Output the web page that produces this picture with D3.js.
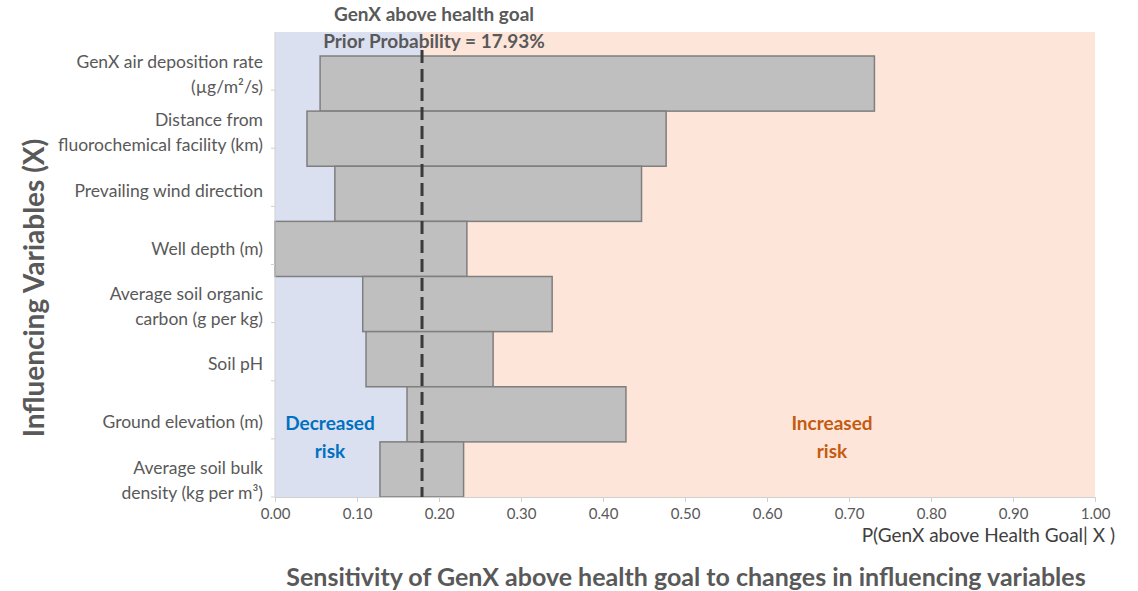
<!DOCTYPE html>
<html>
<head>
<meta charset="utf-8">
<script src="https://cdn.jsdelivr.net/npm/d3@7"></script>
<style>
  body { margin: 0; background: #fff; }
  text { font-family: Lato, "Open Sans", sans-serif; }
</style>
</head>
<body>
<div id="chart"></div>
<script>
// categories (top to bottom), each label split into lines
const variables = [
  ["GenX air deposition rate", "(µg/m²/s)"],
  ["Distance from", "fluorochemical facility (km)"],
  ["Prevailing wind direction"],
  ["Well depth (m)"],
  ["Average soil organic", "carbon (g per kg)"],
  ["Soil pH"],
  ["Ground elevation (m)"],
  ["Average soil bulk", "density (kg per m³)"]
];
// P(GenX above health goal | X) at the low and high end of each variable
const lowValues  = [0.055, 0.039, 0.073, 0.000, 0.107, 0.111, 0.161, 0.128];
const highValues = [0.731, 0.477, 0.447, 0.234, 0.338, 0.266, 0.428, 0.230];
const priorProbability = 0.1793;
const xTicks = [0, 0.1, 0.2, 0.3, 0.4, 0.5, 0.6, 0.7, 0.8, 0.9, 1.0];

const w = 1138;
const h = 591;
const plot = { left: 275, right: 1095, top: 32, barTop: 56, bottom: 497 };

const rows = variables.map((lines, i) => ({
      key: lines.join(" "),
      lines: lines,
      low: lowValues[i],
      high: highValues[i]
}));

const x = d3.scaleLinear().domain([0, 1]).range([plot.left, plot.right]);
// bars
const y = d3.scaleBand()
      .domain(rows.map((d) => d.key))
      .range([plot.barTop, plot.bottom])
      .padding(0);
// category axis (labels and tick marks sit a little differently than the bars)
const yLabel = d3.scaleBand()
      .domain(rows.map((d) => d.key))
      .range([46, 509]);
const yTick = d3.scaleBand()
      .domain(rows.map((d) => d.key))
      .range([plot.top, plot.bottom]);

const svg = d3.select("#chart")
      .append("svg")
      .attr("width", w)
      .attr("height", h);

// background regions
svg.append("rect")
      .attr("x", x(0))
      .attr("y", plot.top)
      .attr("width", x(priorProbability) - x(0))
      .attr("height", plot.bottom - plot.top)
      .style("fill", "#dbe0f1");
svg.append("rect")
      .attr("x", x(priorProbability))
      .attr("y", plot.top)
      .attr("width", x(1) - x(priorProbability))
      .attr("height", plot.bottom - plot.top)
      .style("fill", "#fde6d9");

// bars
svg.selectAll("rect.bar")
      .data(rows)
      .enter()
      .append("rect")
      .attr("class", "bar")
      .attr("x", (d) => x(d.low))
      .attr("y", (d) => y(d.key))
      .attr("width", (d) => x(d.high) - x(d.low))
      .attr("height", y.bandwidth())
      .style("fill", "#bfbfbf")
      .style("stroke", "#7f7f7f")
      .style("stroke-width", 1.5);

// prior probability line
svg.append("line")
      .attr("x1", x(priorProbability))
      .attr("x2", x(priorProbability))
      .attr("y1", 50)
      .attr("y2", plot.bottom)
      .style("stroke", "#3a3a3a")
      .style("stroke-width", 3)
      .style("stroke-dasharray", "13,6");

// x axis
const xAxis = d3.axisBottom(x)
      .tickValues(xTicks)
      .tickFormat(d3.format(".2f"))
      .tickSize(5)
      .tickPadding(6);
const gx = svg.append("g")
      .attr("transform", `translate(0,${plot.bottom})`)
      .call(xAxis);
gx.select(".domain").style("stroke", "#d0d0d0");
gx.selectAll(".tick line").style("stroke", "#d0d0d0");
gx.selectAll(".tick text")
      .style("font-size", "15px")
      .style("fill", "#595959");

// y axis line, tick marks and labels
svg.append("line")
      .attr("x1", plot.left).attr("x2", plot.left)
      .attr("y1", plot.top).attr("y2", plot.bottom)
      .style("stroke", "#d0d0d0");
svg.selectAll("line.ytick")
      .data(rows)
      .enter()
      .append("line")
      .attr("class", "ytick")
      .attr("x1", plot.left - 4).attr("x2", plot.left)
      .attr("y1", (d) => yTick(d.key) + yTick.bandwidth())
      .attr("y2", (d) => yTick(d.key) + yTick.bandwidth())
      .style("stroke", "#d0d0d0");

const labels = svg.selectAll("text.ylabel")
      .data(rows)
      .enter()
      .append("text")
      .attr("class", "ylabel")
      .attr("text-anchor", "end")
      .style("font-size", "17.5px")
      .style("fill", "#595959");
labels.selectAll("tspan")
      .data((d) => d.lines.map((t, i) => ({ t: t, i: i, n: d.lines.length, key: d.key })))
      .enter()
      .append("tspan")
      .attr("x", 263)
      .attr("y", (d) => yLabel(d.key) + yLabel.bandwidth() / 2 + (d.i - (d.n - 1) / 2) * 25 + 6)
      .text((d) => d.t);

// y axis title
svg.append("text")
      .attr("transform", "translate(44,288) rotate(-90)")
      .attr("text-anchor", "middle")
      .style("font-size", "28px")
      .style("font-weight", "bold")
      .style("fill", "#595959")
      .text("Influencing Variables (X)");

// top title
svg.append("text")
      .attr("x", 434).attr("y", 21)
      .attr("text-anchor", "middle")
      .style("font-size", "19px")
      .style("font-weight", "bold")
      .style("fill", "#595959")
      .text("GenX above health goal");
svg.append("text")
      .attr("x", 434).attr("y", 48)
      .attr("text-anchor", "middle")
      .style("font-size", "19px")
      .style("font-weight", "bold")
      .style("fill", "#595959")
      .text("Prior Probability = 17.93%");

// region annotations
const regionText = [
      { lines: ["Decreased", "risk"], cx: 330, color: "#0070c0" },
      { lines: ["Increased", "risk"], cx: 832, color: "#c55a11" }
];
regionText.forEach((r) => {
      const t = svg.append("text")
            .attr("text-anchor", "middle")
            .style("font-size", "19px")
            .style("font-weight", "bold")
            .style("fill", r.color);
      r.lines.forEach((line, i) => {
            t.append("tspan")
                  .attr("x", r.cx)
                  .attr("y", 430 + i * 28)
                  .text(line);
      });
});

// x axis title
svg.append("text")
      .attr("x", 1115).attr("y", 542)
      .attr("text-anchor", "end")
      .style("font-size", "19px")
      .style("fill", "#404040")
      .text("P(GenX above Health Goal| X )");

// bottom caption
svg.append("text")
      .attr("x", 686).attr("y", 586)
      .attr("text-anchor", "middle")
      .style("font-size", "25px")
      .style("font-weight", "bold")
      .style("fill", "#595959")
      .text("Sensitivity of GenX above health goal to changes in influencing variables");
</script>
</body>
</html>
